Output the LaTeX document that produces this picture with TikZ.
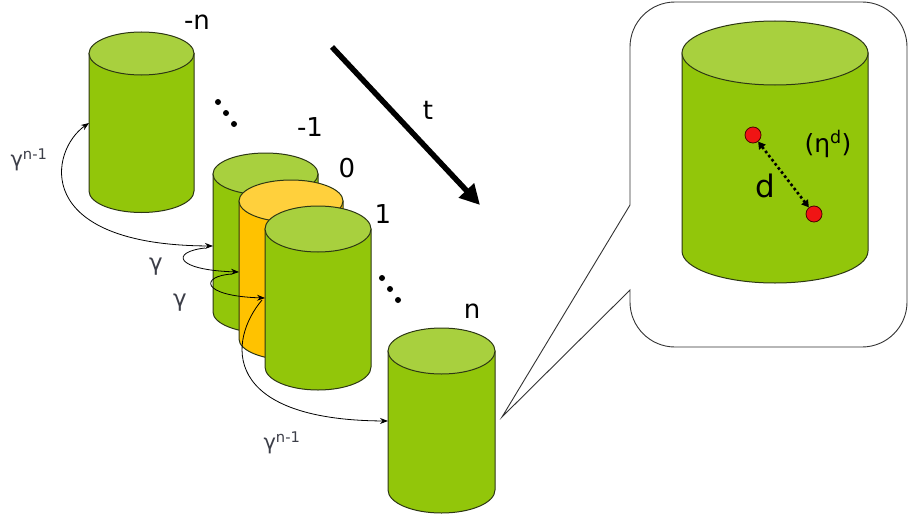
\documentclass[tikz,border=0pt]{standalone}
\usepackage{fontspec}
\setmainfont{DejaVu Sans}
\usetikzlibrary{arrows.meta}
\definecolor{cylgreen}{RGB}{146,198,10}
\definecolor{cylgreentop}{RGB}{168,208,62}
\definecolor{cylyellow}{RGB}{255,194,0}
\definecolor{cylyellowtop}{RGB}{255,208,60}
\definecolor{cyledge}{RGB}{45,55,20}
\definecolor{gammacol}{RGB}{60,62,72}
\definecolor{dotred}{RGB}{240,20,20}
\newcommand\drawcyl[7]{%
  \filldraw[fill=#6,draw=cyledge,line width=1pt]
    ({#1-#4},#2) -- ({#1-#4},#3)
    arc[start angle=180,end angle=0,x radius=#4,y radius=#5]
    -- ({#1+#4},#2) -- cycle;
  \filldraw[fill=#7,draw=cyledge,line width=1pt]
    (#1,#2) ellipse[x radius=#4,y radius=#5];}
\tikzset{
  num/.style={font=\fontsize{26}{28}\selectfont,inner sep=0pt},
  gam/.style={font=\fontsize{21}{24}\selectfont,text=gammacol,inner sep=0pt},
  conn/.style={draw=black,line width=0.8pt,-{Stealth[length=8pt,width=6pt]}},
  elldot/.style={circle,fill=black,inner sep=0pt,minimum size=6pt},
}
\begin{document}
\begin{tikzpicture}[x=1pt,y=-1pt]
\useasboundingbox (0,0) rectangle (909,519);
% left cylinders
\drawcyl{141.5}{53.5}{191}{52.5}{21.5}{cylgreen}{cylgreentop}
\drawcyl{265.5}{174}{312}{52.5}{21}{cylgreen}{cylgreentop}
\drawcyl{291}{201}{339}{52}{21}{cylyellow}{cylyellowtop}
\drawcyl{318}{229}{367}{53}{23}{cylgreen}{cylgreentop}
\drawcyl{441.5}{351}{490}{53.5}{23}{cylgreen}{cylgreentop}
% labels
\node[num] (lmn) at (197,22) {-n};
\node[num] (lm1) at (310,127) {-1};
\node[num] (l0) at (347,168) {0};
\node[num] (l1) at (383,214) {1};
\node[num] (ln) at (472,311) {n};
% ellipsis dots
\node[elldot] (e1) at (218,102) {};
\node[elldot] (e2) at (226,113) {};
\node[elldot] (e3) at (234,124) {};
\node[elldot] (e4) at (382,278) {};
\node[elldot] (e5) at (390,289) {};
\node[elldot] (e6) at (398,300) {};
% time arrow
\coordinate (tA) at (332,47);
\coordinate (tB) at (480,205);
\draw[line width=5.5pt,-{Triangle[length=20pt,width=20pt]}] (tA) -- (tB);
\node[num] (lt) at (428,110) {t};
% connector points
\coordinate (pmn) at (89,123);
\coordinate (pm1) at (213,246);
\coordinate (pm1b) at (205,248);
\coordinate (p0) at (239,272);
\coordinate (p0b) at (232,274);
\coordinate (p1) at (265,298);
\coordinate (p1b) at (262,300);
\coordinate (pn) at (388,421);
\draw[conn,{Stealth[length=8pt,width=6pt]}-{Stealth[length=8pt,width=6pt]}]
  (pmn) .. controls (50,150) and (30,245) .. (pm1);
\draw[conn] (pm1b) .. controls (170,252) and (175,270) .. (p0);
\draw[conn] (p0b) .. controls (200,276) and (200,296) .. (p1);
\draw[conn] (p1b) .. controls (228,340) and (220,420) .. (pn);
\node[gam] (g1) at (29,160) {γ\textsuperscript{n-1}};
\node[gam] (g2) at (282,443) {γ\textsuperscript{n-1}};
\node[gam,font=\fontsize{23}{26}\selectfont] (g3) at (156,267) {γ};
\node[gam,font=\fontsize{23}{26}\selectfont] (g4) at (180,303) {γ};
% callout
\filldraw[fill=white,draw=black!80,line width=0.9pt]
  (630,205) -- (502,417) -- (630,290) -- (630,302)
  arc[start angle=180,end angle=90,radius=45] -- (862,347)
  arc[start angle=90,end angle=0,radius=45] -- (907,47)
  arc[start angle=0,end angle=-90,radius=45] -- (675,2)
  arc[start angle=-90,end angle=-180,radius=45] -- cycle;
\drawcyl{775}{53}{251}{93}{32}{cylgreen}{cylgreentop}
\node[circle,fill=dotred,draw=black!70!red,line width=0.8pt,minimum size=16pt,inner sep=0pt] (r1) at (753,135) {};
\node[circle,fill=dotred,draw=black!70!red,line width=0.8pt,minimum size=16pt,inner sep=0pt] (r2) at (814,214) {};
\draw[line width=2.6pt,dash pattern=on 2.6pt off 2.6pt,{Triangle[length=7pt,width=8pt]}-{Triangle[length=7pt,width=8pt]}] (r1) -- (r2);
\node[num,font=\fontsize{31}{34}\selectfont] (ld) at (765,186) {d};
\node[num,font=\fontsize{25}{28}\selectfont] (leta) at (828,144) {(η\textsuperscript{d})};
\end{tikzpicture}
\end{document}
